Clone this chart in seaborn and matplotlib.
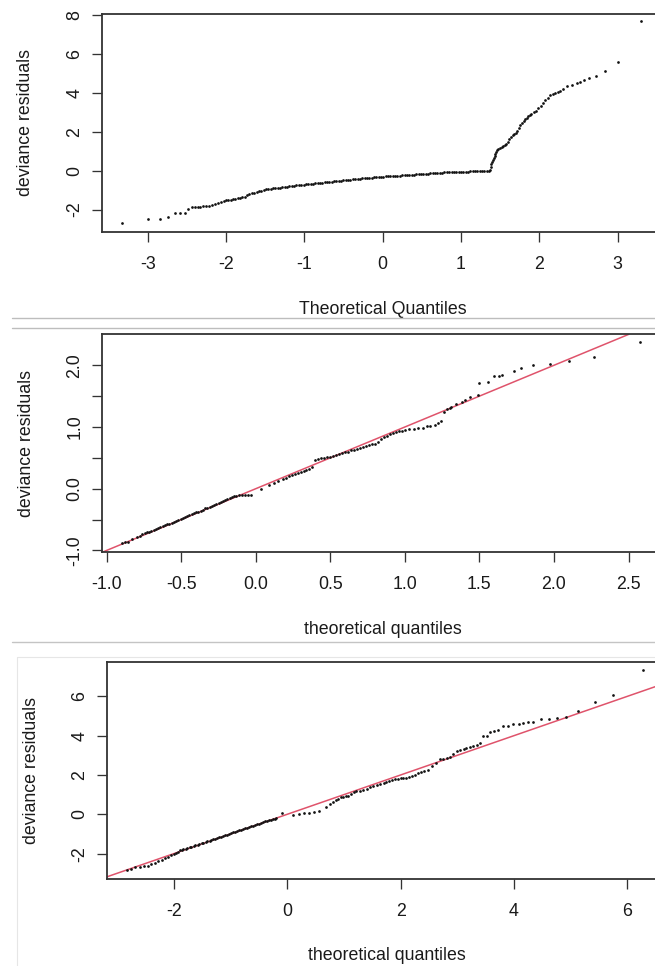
import matplotlib
matplotlib.use("Agg")
import matplotlib.pyplot as plt
from matplotlib.lines import Line2D
from matplotlib import font_manager
import seaborn as sns
import pandas as pd

# ---------------- data ----------------
# Panel 1: normal Q-Q of deviance residuals
p1_theoretical = [
    -3.33, -3.00, -2.84, -2.74, -2.65, -2.59, -2.52, -2.48, -2.44, -2.40, -2.36, -2.33, -2.29, -2.26,
    -2.22, -2.18, -2.14, -2.10, -2.07, -2.03,
    -2.00, -1.97, -1.94, -1.91, -1.88, -1.85, -1.82, -1.79, -1.76, -1.73, -1.70, -1.67, -1.64, -1.61,
    -1.58, -1.55, -1.52, -1.49, -1.46, -1.43, -1.40, -1.37, -1.34, -1.31, -1.28, -1.25, -1.22, -1.19,
    -1.16, -1.13, -1.10, -1.07, -1.04, -1.01, -0.98, -0.95, -0.92, -0.89, -0.86, -0.83, -0.80, -0.77,
    -0.74, -0.71, -0.68, -0.65, -0.62, -0.59, -0.56, -0.53, -0.50, -0.47, -0.44, -0.41, -0.38, -0.35,
    -0.32, -0.29, -0.26, -0.23, -0.20, -0.17, -0.14, -0.11, -0.08, -0.05, -0.02, 0.01, 0.04, 0.07,
    0.10, 0.13, 0.16, 0.19, 0.22, 0.25, 0.28, 0.31, 0.34, 0.37, 0.40, 0.43, 0.46, 0.49, 0.52, 0.55,
    0.58, 0.61, 0.64, 0.67, 0.70, 0.73, 0.76, 0.79, 0.82, 0.85, 0.88, 0.91, 0.94, 0.97, 1.00, 1.03,
    1.06, 1.09, 1.12, 1.15, 1.18, 1.21, 1.24, 1.27, 1.30, 1.33, 1.36,
    1.37, 1.38, 1.39, 1.40, 1.41, 1.42, 1.43, 1.44, 1.45, 1.46, 1.48, 1.50, 1.52, 1.54, 1.56, 1.58,
    1.60, 1.62, 1.64, 1.66, 1.68, 1.70, 1.72, 1.74, 1.76, 1.78, 1.80, 1.82, 1.84, 1.86, 1.88, 1.90,
    1.93, 1.96, 1.99, 2.02, 2.05, 2.08, 2.11, 2.14, 2.17, 2.20, 2.24, 2.27, 2.30, 2.35, 2.42, 2.48,
    2.52, 2.57, 2.64, 2.73, 2.84, 3.00, 3.30,
]
p1_residuals = [
    -2.67, -2.50, -2.50, -2.38, -2.16, -2.16, -2.16, -1.97, -1.88, -1.85, -1.85, -1.84, -1.83, -1.82,
    -1.80, -1.78, -1.71, -1.66, -1.61, -1.55,
    -1.52, -1.51, -1.50, -1.47, -1.44, -1.41, -1.38, -1.36, -1.33, -1.27, -1.22, -1.17, -1.13, -1.09,
    -1.05, -1.02, -0.99, -0.96, -0.95, -0.93, -0.91, -0.90, -0.88, -0.87, -0.86, -0.84, -0.83, -0.81,
    -0.80, -0.78, -0.76, -0.75, -0.73, -0.72, -0.70, -0.69, -0.68, -0.66, -0.65, -0.64, -0.63, -0.61,
    -0.60, -0.59, -0.57, -0.56, -0.55, -0.54, -0.53, -0.51, -0.50, -0.48, -0.47, -0.46, -0.45, -0.44,
    -0.42, -0.41, -0.40, -0.38, -0.37, -0.36, -0.35, -0.34, -0.33, -0.32, -0.31, -0.30, -0.29, -0.28,
    -0.28, -0.27, -0.26, -0.26, -0.25, -0.24, -0.23, -0.22, -0.21, -0.20, -0.20, -0.19, -0.18, -0.17,
    -0.17, -0.16, -0.15, -0.14, -0.13, -0.12, -0.11, -0.10, -0.10, -0.09, -0.09, -0.08, -0.08, -0.07,
    -0.07, -0.06, -0.06, -0.05, -0.05, -0.05, -0.04, -0.04, -0.04, -0.03, -0.03, -0.03, -0.02, -0.02,
    -0.01,
    0.05, 0.20, 0.32, 0.45, 0.56, 0.66, 0.75, 0.86, 0.97, 1.07, 1.12, 1.18, 1.22, 1.26, 1.30, 1.36,
    1.48, 1.62, 1.75, 1.84, 1.90, 1.96, 2.05, 2.20, 2.33, 2.44, 2.53, 2.63, 2.72, 2.80, 2.86, 2.92,
    3.00, 3.09, 3.20, 3.33, 3.48, 3.62, 3.76, 3.87, 3.94, 3.98, 4.03, 4.07, 4.18, 4.33, 4.39, 4.49,
    4.57, 4.66, 4.75, 4.87, 5.14, 5.60, 7.68,
]

# Panel 2
p2_theoretical = [
    -0.90, -0.88, -0.86, -0.83, -0.80, -0.78, -0.76, -0.745, -0.73, -0.715, -0.70, -0.685, -0.67,
    -0.655, -0.64, -0.625, -0.61, -0.595, -0.58, -0.565, -0.55, -0.535, -0.52, -0.505, -0.49, -0.475,
    -0.46, -0.445, -0.43, -0.415, -0.40, -0.385, -0.37, -0.355, -0.34, -0.325, -0.31, -0.295, -0.28,
    -0.265, -0.25, -0.235, -0.22, -0.205, -0.19, -0.175, -0.16, -0.145, -0.13,
    -0.11, -0.09, -0.07, -0.05, -0.03, 0.035, 0.09, 0.12, 0.15, 0.18, 0.20, 0.22, 0.24, 0.26, 0.28,
    0.30, 0.32, 0.34, 0.36, 0.38, 0.40, 0.42, 0.44, 0.46, 0.48, 0.50, 0.52, 0.54, 0.56, 0.58, 0.60,
    0.62, 0.64, 0.66, 0.68, 0.70, 0.72, 0.74, 0.76, 0.78, 0.80, 0.82, 0.84, 0.86, 0.88, 0.90, 0.92,
    0.94, 0.96, 0.98, 1.00, 1.03, 1.06, 1.09, 1.12, 1.15, 1.17, 1.20, 1.22, 1.24, 1.26, 1.28, 1.30,
    1.31, 1.34, 1.38, 1.40, 1.44, 1.49, 1.50, 1.56, 1.60, 1.63, 1.65, 1.73, 1.78, 1.86, 1.97, 2.10,
    2.27, 2.58,
]
p2_residuals = [
    -0.88, -0.87, -0.86, -0.81, -0.78, -0.77, -0.74, -0.72, -0.71, -0.70, -0.68, -0.665, -0.65,
    -0.64, -0.62, -0.61, -0.59, -0.58, -0.565, -0.55, -0.535, -0.52, -0.505, -0.49, -0.475, -0.46,
    -0.445, -0.43, -0.415, -0.40, -0.385, -0.37, -0.355, -0.34, -0.32, -0.305, -0.29, -0.275, -0.26,
    -0.245, -0.23, -0.215, -0.20, -0.185, -0.17, -0.155, -0.14, -0.125, -0.115,
    -0.11, -0.10, -0.11, -0.10, -0.11, 0.00, 0.06, 0.10, 0.13, 0.16, 0.18, 0.20, 0.22, 0.23, 0.25,
    0.27, 0.29, 0.30, 0.32, 0.35, 0.46, 0.48, 0.49, 0.50, 0.51, 0.52, 0.53, 0.55, 0.56, 0.58, 0.59,
    0.60, 0.62, 0.62, 0.64, 0.66, 0.67, 0.69, 0.70, 0.72, 0.73, 0.76, 0.80, 0.84, 0.86, 0.88, 0.90,
    0.92, 0.93, 0.94, 0.95, 0.96, 0.97, 0.98, 0.99, 1.01, 1.02, 1.04, 1.06, 1.10, 1.25, 1.29, 1.31,
    1.33, 1.37, 1.40, 1.44, 1.49, 1.52, 1.72, 1.73, 1.82, 1.83, 1.85, 1.90, 1.96, 2.00, 2.02, 2.07,
    2.13, 2.37,
]

# Panel 3
p3_theoretical = [
    -2.83, -2.75, -2.68, -2.60, -2.52, -2.45, -2.40, -2.33, -2.27, -2.21, -2.15, -2.10, -2.05, -2.00,
    -1.96, -1.92, -1.89,
    -1.86, -1.83, -1.79, -1.76, -1.72, -1.69, -1.65, -1.62, -1.58, -1.55, -1.51, -1.48, -1.44, -1.41,
    -1.37, -1.34, -1.30, -1.27, -1.23, -1.20, -1.16, -1.13, -1.09, -1.06, -1.02, -0.99, -0.95, -0.92,
    -0.88, -0.85, -0.81, -0.78, -0.74, -0.71, -0.67, -0.64, -0.60, -0.57, -0.53, -0.50, -0.46, -0.43,
    -0.39, -0.36, -0.32, -0.29, -0.25, -0.22, -0.19,
    -0.10, 0.11, 0.20, 0.29, 0.38, 0.47, 0.56, 0.68, 0.75, 0.81, 0.86, 0.90, 0.95, 0.99, 1.04, 1.08,
    1.12, 1.17, 1.22, 1.28, 1.34, 1.40, 1.46, 1.52, 1.58, 1.64, 1.70, 1.75, 1.80, 1.85, 1.90, 1.95,
    2.00, 2.05, 2.10, 2.15, 2.20, 2.25, 2.30, 2.36, 2.42, 2.49, 2.55, 2.62, 2.69, 2.75, 2.81, 2.87,
    2.93, 2.99, 3.05, 3.11, 3.16, 3.22, 3.28, 3.34, 3.40, 3.45, 3.52, 3.58, 3.65, 3.72, 3.81, 3.90,
    3.99, 4.08, 4.16, 4.25, 4.34, 4.47, 4.62, 4.76, 4.92, 5.13, 5.43, 5.74, 6.28,
]
p3_residuals = [
    -2.83, -2.77, -2.70, -2.66, -2.63, -2.62, -2.55, -2.46, -2.37, -2.32, -2.24, -2.16, -2.08, -2.02,
    -1.98, -1.92, -1.84,
    -1.80, -1.78, -1.75, -1.72, -1.68, -1.65, -1.60, -1.57, -1.54, -1.51, -1.47, -1.45, -1.41, -1.38,
    -1.34, -1.31, -1.27, -1.24, -1.20, -1.17, -1.13, -1.10, -1.06, -1.03, -0.99, -0.96, -0.92, -0.89,
    -0.85, -0.82, -0.78, -0.75, -0.71, -0.68, -0.64, -0.61, -0.57, -0.54, -0.50, -0.47, -0.43, -0.40,
    -0.36, -0.33, -0.30, -0.27, -0.24, -0.22, -0.20,
    0.05, -0.02, 0.01, 0.05, 0.08, 0.12, 0.18, 0.39, 0.50, 0.62, 0.72, 0.80, 0.86, 0.90, 0.93, 0.95,
    1.05, 1.15, 1.18, 1.21, 1.25, 1.30, 1.37, 1.43, 1.48, 1.54, 1.60, 1.66, 1.70, 1.74, 1.78, 1.81,
    1.83, 1.85, 1.87, 1.90, 1.95, 2.02, 2.08, 2.15, 2.20, 2.25, 2.45, 2.62, 2.80, 2.82, 2.85, 2.90,
    3.05, 3.23, 3.28, 3.31, 3.36, 3.41, 3.47, 3.52, 3.64, 3.98, 3.98, 4.20, 4.25, 4.29, 4.49, 4.49,
    4.58, 4.58, 4.63, 4.68, 4.71, 4.85, 4.85, 4.91, 4.93, 5.27, 5.71, 6.07, 7.34,
]

p1_xticks = [-3, -2, -1, 0, 1, 2, 3]
p1_yticks = [-2, 0, 2, 4, 6, 8]
p2_xticks = [-1.0, -0.5, 0.0, 0.5, 1.0, 1.5, 2.0, 2.5]
p2_yticks = [-1.0, -0.5, 0.0, 0.5, 1.0, 1.5, 2.0]
p2_ylabels = ["-1.0", "", "0.0", "", "1.0", "", "2.0"]
p3_xticks = [-2, 0, 2, 4, 6]
p3_yticks = [-2, 0, 2, 4, 6]

xlabels = ["Theoretical Quantiles", "theoretical quantiles", "theoretical quantiles"]
ylabel = "deviance residuals"

# ---------------- style ----------------
sns.set_theme(style="ticks")
avail = {f.name for f in font_manager.fontManager.ttflist}
fam = [f for f in ["Liberation Sans", "Arial", "DejaVu Sans"] if f in avail] or ["DejaVu Sans"]
plt.rcParams["font.family"] = fam
FS = 12.8
AX_COL = "#333333"
TXT_COL = "#1a1a1a"
LINE_COL = "#DF536B"

W, H = 655, 966
fig = plt.figure(figsize=(W / 100, H / 100), dpi=100)
fig.patch.set_facecolor("white")


def add_ax(left, right, top, bottom):
    return fig.add_axes([left / W, 1 - bottom / H, (right - left) / W, (bottom - top) / H])


def style_ax(ax, xticks, xtl, yticks, ytl, xlab, xlab_y, ylab_x):
    for s in ax.spines.values():
        s.set_color(AX_COL)
        s.set_linewidth(1.3)
    ax.set_xticks(xticks)
    ax.set_xticklabels(xtl, fontsize=FS, color=TXT_COL)
    ax.set_yticks(yticks)
    ax.set_yticklabels(ytl, fontsize=FS, color=TXT_COL, rotation=90, va="center")
    ax.tick_params(axis="both", direction="out", length=7.2, width=0.95, color=AX_COL)
    ax.tick_params(axis="x", pad=10)
    ax.tick_params(axis="y", pad=6)
    ax.set_xlabel(xlab, fontsize=FS, color=TXT_COL, va="center")
    ax.set_ylabel(ylabel, fontsize=FS, color=TXT_COL, va="center")
    ax.xaxis.set_label_coords(0.5, xlab_y)
    ax.yaxis.set_label_coords(ylab_x, 0.5)
    ax.set_facecolor("white")


def draw_points(ax, xs, ys):
    df = pd.DataFrame({"x": xs, "y": ys})
    sns.scatterplot(data=df, x="x", y="y", ax=ax, s=3.8, color="#111111", linewidth=0,
                    legend=False, zorder=3)


# Panel 1
ax1 = add_ax(101.5, 663.7, 14, 232)
draw_points(ax1, p1_theoretical, p1_residuals)
ax1.set_xlim(-3.59, 3.59)
ax1.set_ylim(-3.15, 8.05)
style_ax(ax1, p1_xticks, [str(v) for v in p1_xticks], p1_yticks, [str(v) for v in p1_yticks],
         xlabels[0], (232 - 310) / 218, (25 - 101.5) / 562.2)

# Panel 2
ax2 = add_ax(101.5, 664.3, 334.3, 552.3)
draw_points(ax2, p2_theoretical, p2_residuals)
ax2.set_xlim(-1.035, 2.74)
ax2.set_ylim(-1.031, 2.502)
ax2.axline((0, 0), slope=1, color=LINE_COL, lw=1.1, zorder=1)
style_ax(ax2, p2_xticks, [f"{v:.1f}" for v in p2_xticks], p2_yticks, p2_ylabels,
         xlabels[1], (552.3 - 630) / 218, (27 - 101.5) / 562.8)

# Panel 3
ax3 = add_ax(106.9, 667.1, 662.3, 879)
draw_points(ax3, p3_theoretical, p3_residuals)
ax3.set_xlim(-3.18, 6.70)
ax3.set_ylim(-3.29, 7.73)
ax3.axline((0, 0), slope=1, color=LINE_COL, lw=1.1, zorder=1)
style_ax(ax3, p3_xticks, [str(v) for v in p3_xticks], p3_yticks, [str(v) for v in p3_yticks],
         xlabels[2], (879 - 956) / 216.7, (32 - 106.9) / 560.2)


# separators between the stacked screenshots
def hline(y, x0, x1, color, lw):
    fig.add_artist(Line2D([x0 / W, x1 / W], [1 - y / H, 1 - y / H], color=color, lw=lw,
                          transform=fig.transFigure))


def vline(x, y0, y1, color, lw):
    fig.add_artist(Line2D([x / W, x / W], [1 - y0 / H, 1 - y1 / H], color=color, lw=lw,
                          transform=fig.transFigure))


hline(318.3, 12, 655, "#bdbdbd", 1.0)
hline(328.3, 12, 655, "#bdbdbd", 1.0)
hline(642.3, 12, 655, "#c4c4c4", 1.0)
hline(657.3, 17.3, 655, "#e6e6e6", 0.8)
vline(17.3, 657.3, 966, "#e6e6e6", 0.8)

fig.savefig("out.png", dpi=100, facecolor="white")
